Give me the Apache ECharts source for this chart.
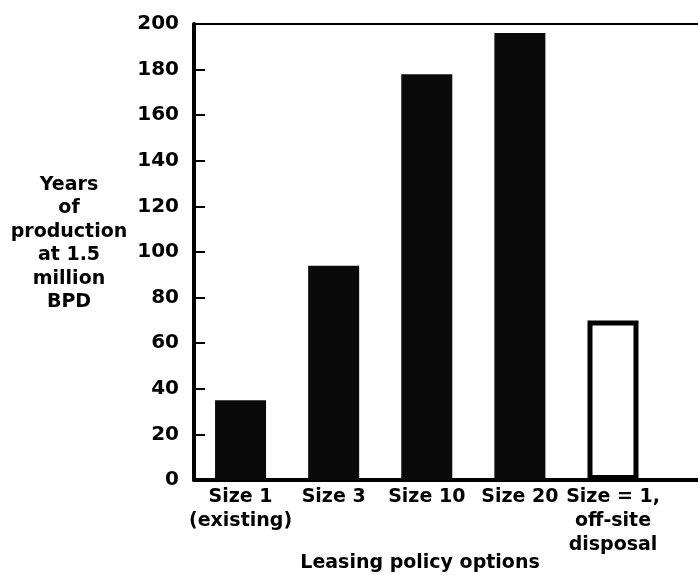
<!DOCTYPE html>
<html>
<head>
<meta charset="utf-8">
<script src="https://cdn.jsdelivr.net/npm/echarts@6/dist/echarts.min.js"></script>
<style>
html,body{margin:0;padding:0;background:#fff;}
#chart{width:698px;height:575px;}
</style>
</head>
<body>
<div id="chart"></div>
<script>
// Data
var categories = ['Size 1\n(existing)', 'Size 3', 'Size 10', 'Size 20', 'Size = 1,\noff-site\ndisposal'];
var years = [35, 94, 178, 196, 70];
var hollow = [false, false, false, false, true];
var yTicks = [0, 20, 40, 60, 80, 100, 120, 140, 160, 180, 200];
var yTickMarks = [20, 40, 60, 80, 100, 120, 140, 160, 180];
var catPositions = [0, 1, 2, 3, 4];
var yAxisTitle = 'Years\nof\nproduction\nat 1.5\nmillion\nBPD';
var xAxisTitle = 'Leasing policy options';

var FONT = 'DejaVu Sans';

var barData = years.map(function (v, i) {
  var d = { value: [catPositions[i], v] };
  if (hollow[i]) {
    d.itemStyle = { color: '#ffffff', borderColor: '#000000', borderWidth: 5 };
  }
  return d;
});

var chart = echarts.init(document.getElementById('chart'), null, { renderer: 'canvas' });
chart.setOption({
  animation: false,
  backgroundColor: '#ffffff',
  title: {
    text: yAxisTitle,
    left: 69,
    top: 173,
    padding: 0,
    textAlign: 'center',
    textStyle: { fontFamily: FONT, fontWeight: 'bold', fontSize: 19, color: '#000', lineHeight: 23.5 }
  },
  grid: { left: 194, right: 0, top: 24, bottom: 95, containLabel: false, outerBoundsMode: 'none' },
  xAxis: [{
    type: 'value',
    position: 'bottom',
    min: -0.5,
    max: 4.913,
    name: xAxisTitle,
    nameLocation: 'middle',
    nameGap: 83,
    nameMoveOverlap: false,
    nameTextStyle: { fontFamily: FONT, fontWeight: 'bold', fontSize: 19, color: '#000', verticalAlign: 'middle', padding: [0, 52, 0, 0] },
    axisLine: { show: true, onZero: false, lineStyle: { color: '#000', width: 4 } },
    axisTick: { show: false },
    splitLine: { show: false },
    axisLabel: {
      customValues: catPositions,
      formatter: function (v) { return categories[Math.round(v)]; },
      fontFamily: FONT, fontWeight: 'bold', fontSize: 19, color: '#000',
      lineHeight: 24, margin: 5
    }
  }, {
    type: 'value',
    position: 'top',
    min: -0.5,
    max: 4.913,
    axisLine: { show: true, onZero: false, lineStyle: { color: '#000', width: 2 } },
    axisTick: { show: false },
    axisLabel: { show: false },
    splitLine: { show: false }
  }],
  yAxis: {
    type: 'value',
    min: 0,
    max: 200,
    interval: 20,
    axisLine: { show: true, onZero: false, lineStyle: { color: '#000', width: 4 } },
    axisTick: { show: true, inside: true, length: 11, customValues: yTickMarks, lineStyle: { color: '#000', width: 2 } },
    splitLine: { show: false },
    axisLabel: {
      customValues: yTicks,
      fontFamily: FONT, fontWeight: 'bold', fontSize: 20, color: '#000', margin: 15
    }
  },
  series: [{
    type: 'bar',
    xAxisIndex: 0,
    yAxisIndex: 0,
    barWidth: 51,
    itemStyle: { color: '#0a0a0a' },
    data: barData
  }]
});
</script>
</body>
</html>
